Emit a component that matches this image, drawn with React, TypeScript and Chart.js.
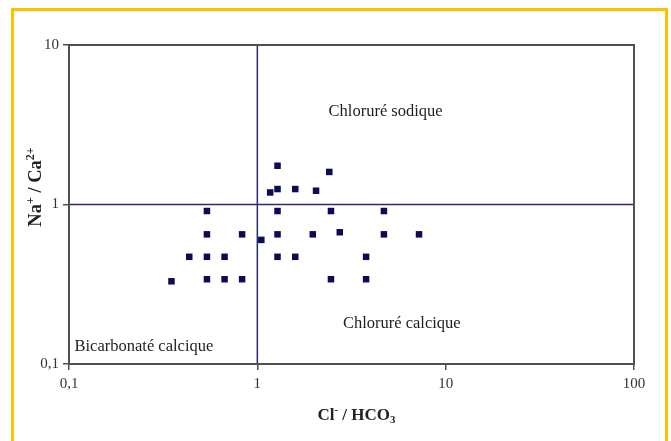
import React, { useEffect, useLayoutEffect, useRef } from 'react';
import { Chart, registerables } from 'chart.js';
Chart.register(...registerables);

// Cl- / HCO3 (x) and Na+ / Ca2+ (y) for each sample
const clHco3 = [1.28, 2.41, 1.17, 1.28, 1.59, 2.05, 0.54, 1.28, 2.46, 4.7, 0.54, 0.83, 1.05, 1.28, 1.97, 2.74, 4.7, 7.22, 0.435, 0.54, 0.67, 1.28, 1.59, 3.78, 0.35, 0.54, 0.67, 0.83, 2.46, 3.78];
const naCa = [1.75, 1.6, 1.19, 1.25, 1.25, 1.22, 0.91, 0.91, 0.91, 0.91, 0.65, 0.65, 0.6, 0.65, 0.65, 0.67, 0.65, 0.65, 0.47, 0.47, 0.47, 0.47, 0.47, 0.47, 0.33, 0.34, 0.34, 0.34, 0.34, 0.34];

const xTickValues = [0.1, 1, 10, 100];
const xTickLabels = ['0,1', '1', '10', '100'];
const yTickValues = [0.1, 1, 10];
const yTickLabels = ['0,1', '1', '10'];

const regionNames = ['Chloruré sodique', 'Chloruré calcique', 'Bicarbonaté calcique'];
const regionX = [4.8, 5.85, 0.107];
const regionY = [3.8, 0.178, 0.128];
const regionAlign = ['center', 'center', 'left'];

const SERIF = "'Liberation Serif', 'Times New Roman', 'DejaVu Serif', serif";

type Seg = { t: string; m?: 'sup' | 'sub' };

function drawRich(ctx: CanvasRenderingContext2D, segs: Seg[], cx: number, cy: number, size: number, rot: number) {
  ctx.save();
  ctx.translate(cx, cy);
  ctx.rotate(rot);
  const fontFor = (s: Seg) => `bold ${s.m ? Math.round(size * 0.65) : size}px ${SERIF}`;
  let total = 0;
  const widths = segs.map((s) => {
    ctx.font = fontFor(s);
    const w = ctx.measureText(s.t).width;
    total += w;
    return w;
  });
  let x = -total / 2;
  ctx.fillStyle = '#222';
  ctx.textAlign = 'left';
  ctx.textBaseline = 'alphabetic';
  const base = size * 0.33;
  segs.forEach((s, i) => {
    ctx.font = fontFor(s);
    const dy = s.m === 'sup' ? -size * 0.38 : s.m === 'sub' ? size * 0.2 : 0;
    ctx.fillText(s.t, x, base + dy);
    x += widths[i];
  });
  ctx.restore();
}

const decorPlugin = {
  id: 'decor',
  afterDatasetsDraw(chart: any) {
    const { ctx, chartArea, scales } = chart;
    ctx.save();
    ctx.strokeStyle = '#505050';
    ctx.lineWidth = 2;
    ctx.strokeRect(chartArea.left, chartArea.top, chartArea.right - chartArea.left, chartArea.bottom - chartArea.top);
    ctx.font = `16.5px ${SERIF}`;
    ctx.fillStyle = '#1e1e1e';
    ctx.textBaseline = 'middle';
    regionNames.forEach((name, i) => {
      ctx.textAlign = regionAlign[i] as CanvasTextAlign;
      ctx.fillText(name, scales.x.getPixelForValue(regionX[i]), scales.y.getPixelForValue(regionY[i]));
    });
    ctx.restore();
    drawRich(ctx, [{ t: 'Cl' }, { t: '-', m: 'sup' }, { t: ' / HCO' }, { t: '3', m: 'sub' }],
      (chartArea.left + chartArea.right) / 2 + 5, chartArea.bottom + 50, 17, 0);
    drawRich(ctx, [{ t: 'Na' }, { t: '+', m: 'sup' }, { t: ' / Ca' }, { t: '2+', m: 'sup' }],
      35, chartArea.top + 142, 18.5, -Math.PI / 2);
  },
};

export default function App() {
  const ref = useRef<HTMLCanvasElement>(null);
  useLayoutEffect(() => {
    document.body.style.margin = '0';
    document.body.style.overflow = 'hidden';
  }, []);
  useEffect(() => {
    if (!ref.current) return;
    const points = clHco3.map((x, i) => ({ x, y: naCa[i] }));
    const tickFont = { family: SERIF, size: 15 };
    const chart = new Chart(ref.current, {
      type: 'scatter',
      data: {
        datasets: [
          {
            data: points,
            pointStyle: 'rect',
            pointRadius: 4.6,
            pointHoverRadius: 4.6,
            backgroundColor: '#0c0c52',
            borderColor: '#0c0c52',
            borderWidth: 0,
            order: 0,
          } as any,
          {
            type: 'line',
            data: [{ x: 1, y: 0.1 }, { x: 1, y: 10 }],
            borderColor: '#2a2a78',
            borderWidth: 1.5,
            pointRadius: 0,
            showLine: true,
            order: 1,
          } as any,
          {
            type: 'line',
            data: [{ x: 0.1, y: 1 }, { x: 100, y: 1 }],
            borderColor: '#2a2a78',
            borderWidth: 1.5,
            pointRadius: 0,
            showLine: true,
            order: 1,
          } as any,
        ],
      },
      options: {
        responsive: false,
        animation: false,
        layout: { padding: { left: 19, right: 37, top: 45, bottom: 47 } },
        plugins: { legend: { display: false }, tooltip: { enabled: false } },
        scales: {
          x: {
            type: 'logarithmic',
            min: 0.1,
            max: 100,
            afterBuildTicks: (s: any) => { s.ticks = xTickValues.map((v) => ({ value: v })); },
            afterFit: (s: any) => { s.height = 30; },
            ticks: {
              autoSkip: false,
              maxRotation: 0,
              padding: 5,
              color: '#333',
              font: tickFont,
              callback: (v: any) => xTickLabels[xTickValues.indexOf(Number(v))] ?? '',
            },
            grid: { display: true, drawOnChartArea: false, drawTicks: true, tickLength: 6, color: '#505050', lineWidth: 1.5 },
            border: { display: false },
          },
          y: {
            type: 'logarithmic',
            min: 0.1,
            max: 10,
            afterBuildTicks: (s: any) => { s.ticks = yTickValues.map((v) => ({ value: v })); },
            afterFit: (s: any) => { s.width = 50; },
            ticks: {
              autoSkip: false,
              padding: 4,
              color: '#333',
              font: tickFont,
              callback: (v: any) => yTickLabels[yTickValues.indexOf(Number(v))] ?? '',
            },
            grid: { display: true, drawOnChartArea: false, drawTicks: true, tickLength: 6, color: '#505050', lineWidth: 1.5 },
            border: { display: false },
          },
        },
      },
      plugins: [decorPlugin],
    });
    return () => chart.destroy();
  }, []);

  return (
    <div style={{ position: 'relative', width: 671, height: 441, overflow: 'hidden' }}>
      <div
        style={{
          position: 'absolute',
          left: 11,
          top: 8,
          width: 657,
          height: 440,
          borderTop: '3px solid #FFC000',
          borderLeft: '3px solid #FFC000',
          borderRight: '3px solid #FFC000',
          boxSizing: 'border-box',
        }}
      />
      <canvas
        ref={ref}
        width={671}
        height={441}
        style={{ position: 'absolute', left: 0, top: 0, width: 671, height: 441 }}
      />
    </div>
  );
}
